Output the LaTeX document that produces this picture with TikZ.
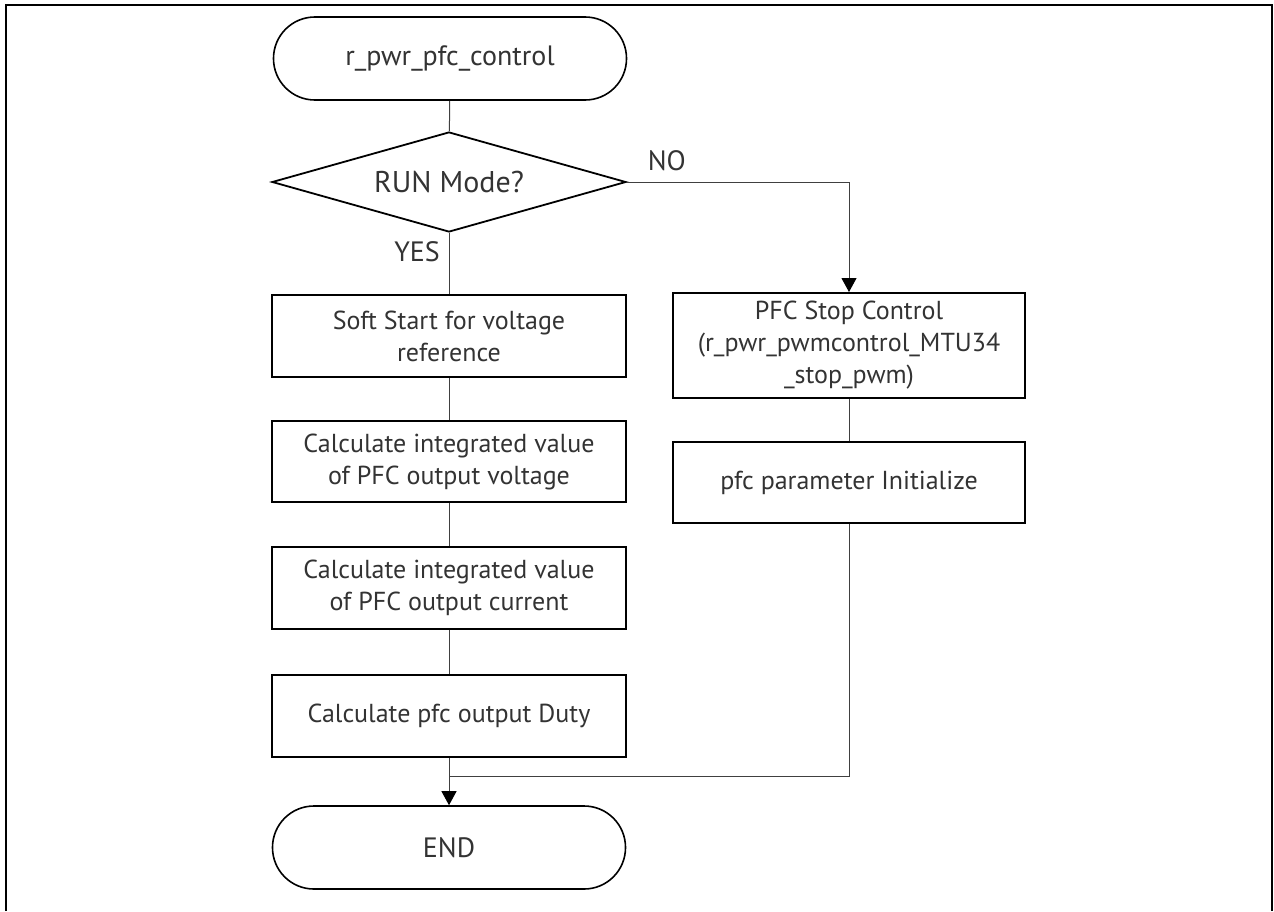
\documentclass[tikz,border=0pt]{standalone}
\usepackage{fontspec}
\setmainfont{PT Sans}
\usetikzlibrary{shapes.geometric,arrows.meta}

\begin{document}
\begin{tikzpicture}[x=0.5pt, y=-0.5pt,
    lbl/.style={text=black!80, font=\fontsize{14}{16}\selectfont},
    term/.style={lbl, draw, line width=0.8pt, minimum width=176.5pt, minimum height=41.5pt, rounded corners=20.7pt},
    decide/.style={lbl, diamond, draw, line width=0.9pt, minimum width=177pt, minimum height=50pt, aspect=3.5, inner sep=0pt, font=\fontsize{15}{17}\selectfont},
    proc/.style={draw, line width=1pt, text=black!80, align=center, minimum width=177pt, font=\fontsize{13}{16}\selectfont},
    flow/.style={draw=black!75, line width=0.5pt},
    tip/.style={-{Triangle[width=7.5pt,length=7pt,color=black]}}
  ]
  \useasboundingbox (0,0) rectangle (1274,911);
  \draw[line width=1pt] (6,911) -- (6,5) -- (1272,5) -- (1272,911);

  \draw
    (450,58.5) node[term] (start){r\_pwr\_pfc\_control}
    (449,182) node[decide] (run){RUN Mode?}
    (449,336) node[proc, minimum height=41pt] (soft){Soft Start for voltage\\reference}
    (449,461.5) node[proc, minimum height=40.5pt] (integv){Calculate integrated value\\of PFC output voltage}
    (449,588) node[proc, minimum height=41pt] (integi){Calculate integrated value\\of PFC output current}
    (449,716) node[proc, minimum height=41pt] (duty){Calculate pfc output Duty}
    (449,847.5) node[term] (end){END}
    (849,345.5) node[proc, minimum width=176pt, minimum height=52.5pt] (stop){PFC Stop Control\\(r\_pwr\_pwmcontrol\_MTU34\\\_stop\_pwm)}
    (849,482.5) node[proc, minimum width=176pt, minimum height=40.5pt] (init){pfc parameter Initialize};
  \coordinate (join) at (449,776);

  \begin{scope}[flow]
    \draw (start) to (run);
    \draw (run) to node[lbl, pos=0.3, left=1pt] (yes){YES} (soft);
    \draw[tip] (run.east) -| node[lbl, pos=0.09, above=2pt] (no){NO} (stop.north);
    \draw (soft) to (integv);
    \draw (integv) to (integi);
    \draw (integi) to (duty);
    \draw[tip] (duty) to (end);
    \draw (stop) to (init);
    \draw (init.south) |- (join);
  \end{scope}
\end{tikzpicture}
\end{document}
